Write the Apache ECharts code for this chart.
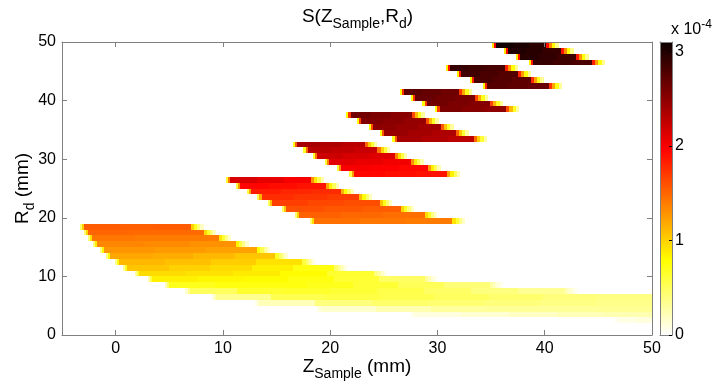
<!DOCTYPE html>
<html><head><meta charset="utf-8">
<script src="https://cdn.jsdelivr.net/npm/echarts@6/dist/echarts.min.js"></script>
<style>html,body{margin:0;padding:0;background:#fff}#c{width:715px;height:385px}</style>
</head><body><div id="c"></div>
<script>
const FONT = "'Liberation Sans', Arial, Helvetica, sans-serif";
const zTicks = [0, 10, 20, 30, 40, 50];
const rTicks = [0, 10, 20, 30, 40, 50];
const cbTicks = [0, 1, 2, 3];
const zMin = -5, zMax = 50, rMin = 0, rMax = 50;
const cbMax = 3.1; // colour scale top, in units of 1e-4
// Leading / trailing fringe of each row (fractions of the adjacent level), and cell widths in mm
const edgeLeft = [0.3, 0.65];
const edgeRight = [0.65, 0.45, 0.27, 0.12];
const edgeLeftW = 0.2, edgeRightW = 0.3;

// Rows: [R lower edge (mm), Z start (mm), Z end (mm), signal levels along the row (x1e-4)...]
const band1 = [
  [49, 35.1, 41.3, 3.07, 3.03, 2.96],
  [48, 36.2, 42.7, 3.00, 2.96, 2.90],
  [47, 37.3, 44.1, 2.96, 2.92, 2.86],
  [46, 38.5, 45.6, 2.90, 2.86, 2.80]
];
const band2 = [
  [45, 30.8, 37.5, 2.90, 2.86, 2.82],
  [44, 31.8, 38.7, 2.85, 2.81, 2.77],
  [43, 33.0, 39.9, 2.80, 2.76, 2.72],
  [42, 34.2, 41.6, 2.75, 2.71, 2.67]
];
const band3 = [
  [41, 26.5, 33.2, 2.72, 2.68, 2.64],
  [40, 27.5, 34.7, 2.67, 2.63, 2.59],
  [39, 28.6, 36.1, 2.62, 2.58, 2.54],
  [38, 29.8, 37.6, 2.57, 2.53, 2.49]
];
const band4 = [
  [37, 21.5, 28.8, 2.62, 2.57, 2.52],
  [36, 22.5, 30.1, 2.56, 2.51, 2.46],
  [35, 23.6, 31.5, 2.50, 2.45, 2.40],
  [34, 24.6, 32.9, 2.44, 2.39, 2.34],
  [33, 25.8, 34.6, 2.38, 2.33, 2.28]
];
const band5 = [
  [32, 16.5, 24.4, 2.38, 2.34, 2.30],
  [31, 17.5, 25.6, 2.30, 2.26, 2.22],
  [30, 18.4, 27.2, 2.20, 2.16, 2.12],
  [29, 19.5, 28.7, 2.10, 2.06, 2.02],
  [28, 20.6, 30.3, 2.00, 1.97, 1.94],
  [27, 21.8, 32.1, 1.94, 1.91, 1.88]
];
const band6 = [
  [26, 10.3, 19.4, 2.15, 2.08, 2.00],
  [25, 11.2, 20.8, 1.95, 1.92, 1.88],
  [24, 12.2, 22.2, 1.84, 1.80, 1.77],
  [23, 13.2, 23.9, 1.76, 1.72, 1.69],
  [22, 14.2, 25.8, 1.68, 1.64, 1.61],
  [21, 15.5, 27.8, 1.60, 1.57, 1.54],
  [20, 16.7, 30.0, 1.52, 1.49, 1.46],
  [19, 18.1, 32.6, 1.45, 1.42, 1.40]
];
const band7 = [
  [18, -3.35, 8.2, 1.55, 1.53, 1.55],
  [17, -2.95, 9.4, 1.50, 1.48, 1.48],
  [16, -2.6, 10.8, 1.42, 1.40, 1.40],
  [15, -2.1, 12.4, 1.35, 1.33, 1.30],
  [14, -1.5, 14.4, 1.28, 1.25, 1.22],
  [13, -0.9, 16.1, 1.20, 1.17, 1.12, 1.05],
  [12, -0.1, 18.6, 1.12, 1.08, 1.02, 0.92],
  [11, 0.7, 21.6, 1.05, 1.00, 0.95, 0.86, 0.74],
  [10, 1.8, 25.3, 0.95, 0.92, 0.88, 0.80, 0.64],
  [9, 3.0, 30.0, 0.85, 0.82, 0.80, 0.74, 0.63, 0.48],
  [8, 4.6, 36.1, 0.70, 0.74, 0.74, 0.70, 0.62, 0.52, 0.42],
  [7, 6.5, 43.1, 0.50, 0.64, 0.66, 0.62, 0.56, 0.48, 0.40, 0.33],
  [6, 9.0, 50, 0.34, 0.54, 0.58, 0.55, 0.50, 0.45, 0.41, 0.38],
  [5, 13.0, 50, 0.22, 0.40, 0.46, 0.44, 0.41, 0.38, 0.36],
  [4, 18.7, 50, 0.15, 0.24, 0.30, 0.32, 0.32, 0.33],
  [3, 27.4, 50, 0.10, 0.14, 0.18, 0.22, 0.24],
  [2, 46.5, 50, 0.08, 0.10]
];
const bands = [band1, band2, band3, band4, band5, band6, band7];

// MATLAB "hot" colormap, flipped (white = 0, black = max)
function hotReversed(n) {
  const n1 = Math.floor(3 / 8 * n), n2 = n1, n3 = n - n1 - n2, out = [];
  for (let i = 0; i < n; i++) {
    const r = Math.min(1, (i + 1) / n1);
    const g = Math.max(0, Math.min(1, (i + 1 - n1) / n2));
    const b = Math.max(0, Math.min(1, (i + 1 - n1 - n2) / n3));
    out.push('rgb(' + Math.round(r * 255) + ',' + Math.round(g * 255) + ',' + Math.round(b * 255) + ')');
  }
  return out.reverse();
}
const HOT = hotReversed(64);

function rowCells(row) {
  const r = row[0], z0 = row[1], z1 = row[2], lv = row.slice(3);
  const cells = [];
  let z = z0;
  edgeLeft.forEach(f => { cells.push([z, z + edgeLeftW, r, r + 1, f * lv[0]]); z += edgeLeftW; });
  const hasRight = z1 < zMax;
  const bodyEnd = hasRight ? z1 - edgeRight.length * edgeRightW : zMax;
  const w = (bodyEnd - z) / lv.length;
  lv.forEach((v, i) => cells.push([z + i * w, z + (i + 1) * w, r, r + 1, v]));
  if (hasRight) {
    let ze = bodyEnd;
    edgeRight.forEach(f => { cells.push([ze, ze + edgeRightW, r, r + 1, f * lv[lv.length - 1]]); ze += edgeRightW; });
  }
  return cells;
}
const cells = [];
bands.forEach(b => b.forEach(row => rowCells(row).forEach(c => cells.push(c))));

const AX = '#808080';
const labelStyle = { color: '#000', fontSize: 16, fontFamily: FONT };
const rich = {
  n: { fontSize: 19, fontFamily: FONT, color: '#000', fontWeight: 'normal' },
  s: { fontSize: 14, fontFamily: FONT, color: '#000', fontWeight: 'normal', padding: [14, 0, 0, 0] }
};
const lineStyle = { color: AX, width: 1 };
const line = { onZero: false, lineStyle: lineStyle };

const chart = echarts.init(document.getElementById('c'), null, { renderer: 'canvas' });
chart.setOption({
  animation: false,
  backgroundColor: '#fff',
  title: {
    text: '{n|S(Z}{s|Sample}{n|,R}{s|d}{n|)}',
    left: 'center', top: -2,
    textStyle: { fontWeight: 'normal', rich: rich }
  },
  graphic: [{
    type: 'text', left: 671, top: 19,
    style: {
      text: '{a|x 10}{b|-4}',
      rich: {
        a: { fontSize: 16, fontFamily: FONT, fill: '#000' },
        b: { fontSize: 12, fontFamily: FONT, fill: '#000', padding: [0, 0, 9, 0] }
      }
    }
  }],
  grid: [
    { left: 62, top: 42, width: 590, height: 293, containLabel: false, outerBoundsMode: 'none' },
    { left: 660, top: 42, width: 12, height: 293, containLabel: false, outerBoundsMode: 'none' }
  ],
  xAxis: [
    { gridIndex: 0, type: 'value', min: zMin, max: zMax, position: 'bottom', z: 5,
      axisLine: line,
      axisTick: { inside: true, length: 5, customValues: zTicks, lineStyle: lineStyle },
      axisLabel: Object.assign({ customValues: zTicks, margin: 6 }, labelStyle),
      splitLine: { show: false },
      name: '{n|Z}{s|Sample}{n| (mm)}', nameLocation: 'middle', nameGap: 18, nameMoveOverlap: false,
      nameTextStyle: { rich: rich } },
    { gridIndex: 0, type: 'value', min: zMin, max: zMax, position: 'top', z: 5,
      axisLine: line,
      axisTick: { inside: true, length: 5, customValues: zTicks, lineStyle: lineStyle },
      axisLabel: { show: false }, splitLine: { show: false } },
    { gridIndex: 1, type: 'value', min: 0, max: 1, position: 'bottom', z: 5,
      axisLine: line, axisTick: { show: false },
      axisLabel: { show: false }, splitLine: { show: false } },
    { gridIndex: 1, type: 'value', min: 0, max: 1, position: 'top', z: 5,
      axisLine: line, axisTick: { show: false },
      axisLabel: { show: false }, splitLine: { show: false } }
  ],
  yAxis: [
    { gridIndex: 0, type: 'value', min: rMin, max: rMax, position: 'left', z: 5,
      axisLine: line,
      axisTick: { inside: true, length: 5, customValues: rTicks, lineStyle: lineStyle },
      axisLabel: Object.assign({ customValues: rTicks, margin: 6 }, labelStyle),
      splitLine: { show: false },
      name: '{n|R}{s|d}{n| (mm)}', nameLocation: 'middle', nameGap: 25, nameRotate: 90, nameMoveOverlap: false,
      nameTextStyle: { rich: rich } },
    { gridIndex: 0, type: 'value', min: rMin, max: rMax, position: 'right', z: 5,
      axisLine: line,
      axisTick: { inside: true, length: 5, customValues: rTicks, lineStyle: lineStyle },
      axisLabel: { show: false }, splitLine: { show: false } },
    { gridIndex: 1, type: 'value', min: 0, max: cbMax, position: 'right', z: 5,
      axisLine: line,
      axisTick: { inside: true, length: 3, customValues: cbTicks, lineStyle: { color: '#000', width: 1 } },
      axisLabel: Object.assign({ customValues: cbTicks, margin: 3 }, labelStyle),
      splitLine: { show: false } },
    { gridIndex: 1, type: 'value', min: 0, max: cbMax, position: 'left', z: 5,
      axisLine: line, axisTick: { show: false },
      axisLabel: { show: false }, splitLine: { show: false } }
  ],
  visualMap: {
    type: 'continuous', show: false, min: 0, max: cbMax, dimension: 4, seriesIndex: 0,
    inRange: { color: HOT }
  },
  series: [
    {
      type: 'custom', xAxisIndex: 0, yAxisIndex: 0, data: cells, clip: true, silent: true,
      encode: { x: [0, 1], y: [2, 3] },
      renderItem: function (params, api) {
        const a = api.coord([api.value(0), api.value(3)]);
        const b = api.coord([api.value(1), api.value(2)]);
        const x0 = Math.round(a[0]), x1 = Math.round(b[0]);
        const y0 = Math.round(a[1]), y1 = Math.round(b[1]);
        return { type: 'rect', shape: { x: x0, y: y0, width: x1 - x0, height: y1 - y0 },
                 style: { fill: api.visual('color') } };
      }
    },
    {
      type: 'custom', xAxisIndex: 2, yAxisIndex: 2, data: [[0, 1, 0, cbMax]], silent: true,
      encode: { x: [0, 1], y: [2, 3] },
      renderItem: function (params, api) {
        const a = api.coord([api.value(0), api.value(3)]);
        const b = api.coord([api.value(1), api.value(2)]);
        return { type: 'rect', shape: { x: a[0], y: a[1], width: b[0] - a[0], height: b[1] - a[1] },
                 style: { fill: { type: 'linear', x: 0, y: 1, x2: 0, y2: 0,
                   colorStops: HOT.map((c, i) => ({ offset: i / (HOT.length - 1), color: c })) } } };
      }
    }
  ]
});
</script></body></html>
